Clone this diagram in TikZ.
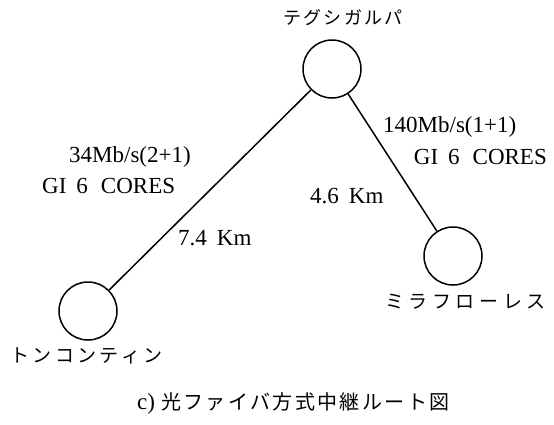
\documentclass[tikz,border=0pt]{standalone}
\usepackage{fontspec}
\setmainfont{Liberation Serif}
\newfontfamily\jpfont{Noto Sans CJK JP}
\newfontfamily\jpfontsp[LetterSpace=12]{Noto Sans CJK JP}
\newfontfamily\jpfontwide[LetterSpace=18]{Noto Sans CJK JP}
\newfontfamily\jpfontwider[LetterSpace=24]{Noto Sans CJK JP}
\newcommand{\gicores}{GI\hspace{10pt}6\hspace{13pt}CORES}
\begin{document}
\begin{tikzpicture}[x=1pt,y=-1pt,
  station/.style={circle,draw,line width=1.5pt,minimum size=58pt,inner sep=0pt},
  link/.style={line width=1.5pt},
  lat/.style={font=\fontsize{23}{26}\selectfont,inner sep=0pt},
  jp/.style={font=\fontsize{18}{20}\selectfont\jpfontsp,inner sep=0pt}]
\useasboundingbox (0,0) rectangle (554,424);
\node[station] (t) at (332,69) {};
\node[station] (l) at (88,311) {};
\node[station] (r) at (453,256) {};
\draw[link] (t) -- (l);
\draw[link] (t) -- (r);
\node[jp] (tn) at (343,18) {テグシガルパ};
\node[jp,font=\fontsize{19}{20}\selectfont\jpfontwide,anchor=west] (ln) at (10,356) {トンコンティン};
\node[jp,font=\fontsize{19}{20}\selectfont\jpfontwider,anchor=west] (rn) at (385,302) {ミラフローレス};
\node[lat,anchor=west] (a1) at (69,157) {34Mb/s(2+1)};
\node[lat,anchor=west] (a2) at (42,186) {\gicores};
\node[lat,anchor=west] (b1) at (383,127) {140Mb/s(1+1)};
\node[lat,anchor=east] (b2) at (547,157) {\gicores};
\node[lat,anchor=west] (c1) at (310,196) {4.6\hspace{10pt}Km};
\node[lat,anchor=west] (c2) at (178,238) {7.4\hspace{10pt}Km};
\node[inner sep=0pt,anchor=west] (cap) at (137,404) {\fontsize{23}{24}\selectfont c)\hspace{6pt}{\fontsize{20}{22}\selectfont\jpfontsp 光ファイバ方式中継ルート図}};
\end{tikzpicture}
\end{document}
